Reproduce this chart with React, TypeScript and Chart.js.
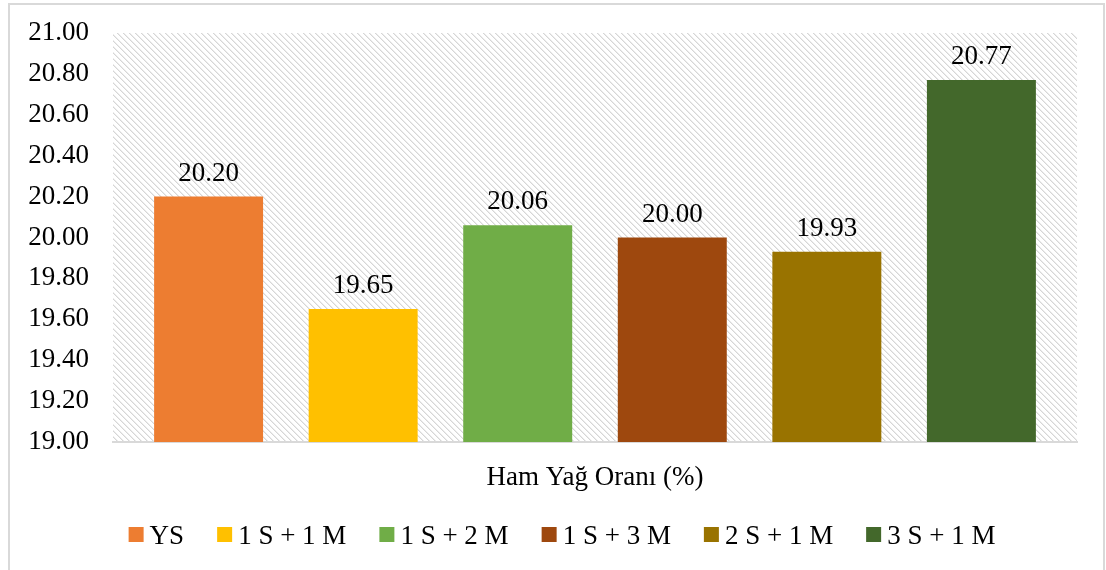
import React, { useEffect, useRef } from 'react';
import { Chart, registerables } from 'chart.js';

Chart.register(...registerables);

const categories = ['Ham Yağ Oranı (%)'];
const seriesNames = ['YS', '1 S + 1 M', '1 S + 2 M', '1 S + 3 M', '2 S + 1 M', '3 S + 1 M'];
const seriesValues = [20.2, 19.65, 20.06, 20.0, 19.93, 20.77];
const seriesColors = ['#ED7D31', '#FFC000', '#70AD47', '#9E480E', '#997300', '#43682B'];
const yMin = 19;
const yMax = 21;
const yStep = 0.2;

const FONT = "'Liberation Serif', 'Times New Roman', serif";

const hatchPlugin = {
  id: 'hatchBg',
  beforeDraw(chart: any) {
    const { ctx, chartArea: a } = chart;
    const N = 6;
    const pc = document.createElement('canvas');
    pc.width = N;
    pc.height = N;
    const p = pc.getContext('2d')!;
    const img = p.createImageData(N, N);
    for (let y = 0; y < N; y++) {
      for (let x = 0; x < N; x++) {
        const d = (((x - y) % N) + N) % N;
        const v = d === 0 ? 214 : d === 1 ? 236 : 255;
        const k = (y * N + x) * 4;
        img.data[k] = v;
        img.data[k + 1] = v;
        img.data[k + 2] = v;
        img.data[k + 3] = 255;
      }
    }
    p.putImageData(img, 0, 0);
    const pat = ctx.createPattern(pc, 'repeat');
    ctx.save();
    ctx.fillStyle = '#ffffff';
    ctx.fillRect(0, 0, chart.width, chart.height);
    ctx.fillStyle = pat;
    ctx.fillRect(a.left, a.top, a.right - a.left, a.bottom - a.top);
    ctx.restore();
  },
};

const valueLabelPlugin = {
  id: 'valueLabels',
  afterDatasetsDraw(chart: any) {
    const { ctx } = chart;
    ctx.save();
    ctx.font = `27px ${FONT}`;
    ctx.fillStyle = '#000';
    ctx.textAlign = 'center';
    ctx.textBaseline = 'alphabetic';
    chart.data.datasets.forEach((ds: any, i: number) => {
      const meta = chart.getDatasetMeta(i);
      meta.data.forEach((el: any, j: number) => {
        ctx.fillText(Number(ds.data[j]).toFixed(2), el.x, el.y - 16);
      });
    });
    ctx.restore();
  },
};

const legendPlugin = {
  id: 'customLegend',
  afterDraw(chart: any) {
    const { ctx } = chart;
    ctx.save();
    ctx.font = `27px ${FONT}`;
    const box = 15;
    const gap = 6;
    const spacing = 33;
    const items = chart.data.datasets.map((ds: any) => ({
      text: ds.label,
      color: ds.backgroundColor,
      w: ctx.measureText(ds.label).width,
    }));
    const total =
      items.reduce((s: number, it: any) => s + box + gap + it.w, 0) + spacing * (items.length - 1);
    let x = 562 - total / 2;
    const boxTop = 527;
    const baseline = 544;
    ctx.textBaseline = 'alphabetic';
    ctx.textAlign = 'left';
    items.forEach((it: any) => {
      ctx.fillStyle = it.color;
      ctx.fillRect(x, boxTop, box, box);
      ctx.fillStyle = '#000';
      ctx.fillText(it.text, x + box + gap, baseline);
      x += box + gap + it.w + spacing;
    });
    // outer border
    ctx.strokeStyle = '#d9d9d9';
    ctx.lineWidth = 2;
    ctx.strokeRect(9, 4, 1095, 580);
    ctx.restore();
  },
};

export default function App() {
  const ref = useRef<HTMLCanvasElement | null>(null);
  useEffect(() => {
    if (!ref.current) return;
    const chart = new Chart(ref.current, {
      type: 'bar',
      data: {
        labels: categories,
        datasets: seriesNames.map((name, i) => ({
          label: name,
          data: [seriesValues[i]],
          backgroundColor: seriesColors[i],
          borderWidth: 0,
          barPercentage: 0.705,
          categoryPercentage: 0.962,
        })),
      },
      options: {
        responsive: false,
        animation: false,
        layout: { padding: { top: 33, right: 29, left: 0, bottom: 0 } },
        plugins: {
          legend: { display: false },
          tooltip: { enabled: false },
          title: { display: false },
        },
        scales: {
          x: {
            grid: { display: false, drawTicks: false },
            border: { display: true, color: '#d9d9d9', width: 2 },
            ticks: {
              color: '#000',
              font: { family: FONT, size: 27 },
              padding: 20,
            },
            afterFit: (s: any) => {
              s.height = 128;
            },
          },
          y: {
            min: yMin,
            max: yMax,
            grid: { display: false, drawTicks: false },
            border: { display: false },
            ticks: {
              stepSize: yStep,
              color: '#000',
              font: { family: FONT, size: 27 },
              padding: 24,
              callback: (v: any) => Number(v).toFixed(2),
            },
            afterFit: (s: any) => {
              s.width = 113;
              s.paddingTop = 0;
              s.paddingBottom = 0;
            },
          },
        },
      },
      plugins: [hatchPlugin, valueLabelPlugin, legendPlugin],
    });
    return () => chart.destroy();
  }, []);
  return (
    <div style={{ position: 'absolute', left: 0, top: 0, width: 1106, height: 570, background: '#fff' }}>
      <canvas ref={ref} width={1106} height={570} style={{ display: 'block' }} />
    </div>
  );
}
